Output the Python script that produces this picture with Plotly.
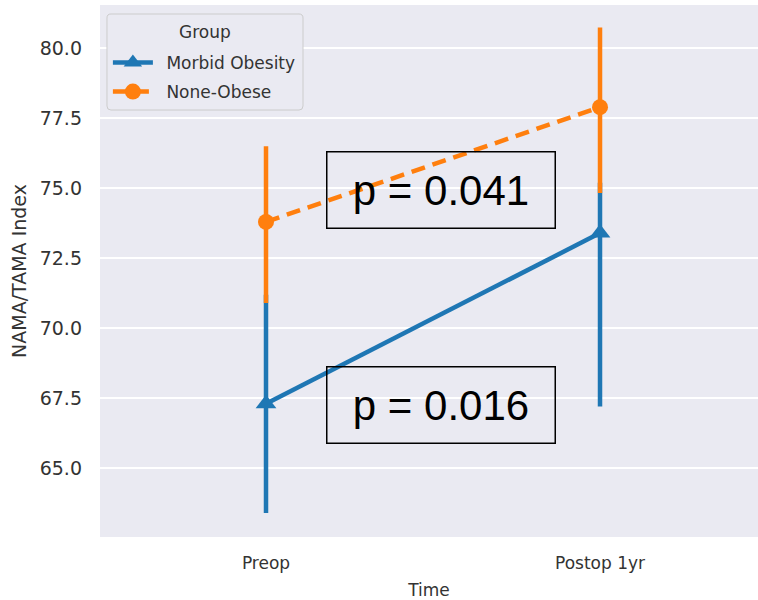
import plotly.graph_objects as go

categories = ["Preop", "Postop 1yr"]
groups = ["Morbid Obesity", "None-Obese"]

mo_mean = [67.3, 73.4]
mo_low = [63.4, 67.2]
mo_high = [71.2, 75.2]

no_mean = [73.8, 77.9]
no_low = [70.9, 74.83]
no_high = [76.5, 80.75]

p_labels = ["p = 0.041", "p = 0.016"]
p_y = [74.95, 67.25]

blue = "#1f77b4"
orange = "#ff7f0e"
txtcol = "#333333"

fig = go.Figure()

def add_group(name, mean, low, high, color, symbol, msize, dash):
    fig.add_trace(go.Scatter(
        x=categories, y=mean, name="\u2002" + name, mode="lines+markers", legendgroup=name,
        line=dict(color=color, width=4.5, dash=dash),
        marker=dict(symbol=symbol, size=msize, color=color),
        error_y=dict(type="data", symmetric=False,
                     array=[h - m for h, m in zip(high, mean)],
                     arrayminus=[m - l for m, l in zip(mean, low)],
                     color=color, thickness=4.5, width=0),
    ))

add_group(groups[0], mo_mean, mo_low, mo_high, blue, "triangle-up", 18, "solid")
add_group(groups[1], no_mean, no_low, no_high, orange, "circle", 16, "14px,8px")

for txt, yy in zip(p_labels, p_y):
    fig.add_annotation(x=0.525, y=yy, xref="x", yref="y", text=txt, showarrow=False,
                       font=dict(family="Liberation Sans", size=42, color="black"),
                       width=225, height=73, bordercolor="black", borderwidth=1.5,
                       borderpad=1, bgcolor="rgba(0,0,0,0)")

# legend frame (rounded) and title
PW, PH = 658.0, 532.0
x0, x1, y0, y1 = 0.0106, 0.3085, 0.8026, 0.9831
rx, ry = 4 / PW, 4 / PH
path = (f"M {x0+rx},{y0} L {x1-rx},{y0} Q {x1},{y0} {x1},{y0+ry} "
        f"L {x1},{y1-ry} Q {x1},{y1} {x1-rx},{y1} L {x0+rx},{y1} "
        f"Q {x0},{y1} {x0},{y1-ry} L {x0},{y0+ry} Q {x0},{y0} {x0+rx},{y0} Z")
fig.add_shape(type="path", xref="paper", yref="paper", path=path,
              line=dict(color="#CCCCCC", width=1), fillcolor="#EAEAF2", layer="above")
fig.add_annotation(x=0.1596, y=0.949, xref="paper", yref="paper", text="Group",
                   xanchor="center", yanchor="middle",
                   showarrow=False, font=dict(size=17, color=txtcol))

fig.update_layout(
    width=758, height=600,
    margin=dict(l=100, r=0, t=5, b=63),
    paper_bgcolor="white", plot_bgcolor="#EAEAF2",
    font=dict(family="DejaVu Sans", size=17, color=txtcol),
    legend=dict(
        x=0.012, y=0.925, xanchor="left", yanchor="top",
        bgcolor="rgba(0,0,0,0)", borderwidth=0,
        font=dict(size=17, color=txtcol),
        itemwidth=40, tracegroupgap=4, traceorder="grouped",
    ),
    showlegend=True,
)
fig.update_xaxes(
    range=[-0.497, 1.473], showgrid=False, zeroline=False, showline=False,
    title=dict(text="Time", font=dict(size=17, color=txtcol), standoff=12),
    tickfont=dict(size=17, color=txtcol), ticks="", ticklabelstandoff=14,
)
fig.update_yaxes(
    range=[62.54, 81.55], tickvals=[65, 67.5, 70, 72.5, 75, 77.5, 80],
    ticktext=["65.0", "67.5", "70.0", "72.5", "75.0", "77.5", "80.0"],
    showgrid=True, gridcolor="white", gridwidth=1.5, zeroline=False, showline=False,
    title=dict(text="NAMA/TAMA Index", font=dict(size=19, color=txtcol), standoff=8),
    tickfont=dict(size=19, color=txtcol), ticks="", ticklabelstandoff=17,
)

fig.write_html("out.html", config={"displayModeBar": False},
               post_script="document.body.style.margin='0';")
